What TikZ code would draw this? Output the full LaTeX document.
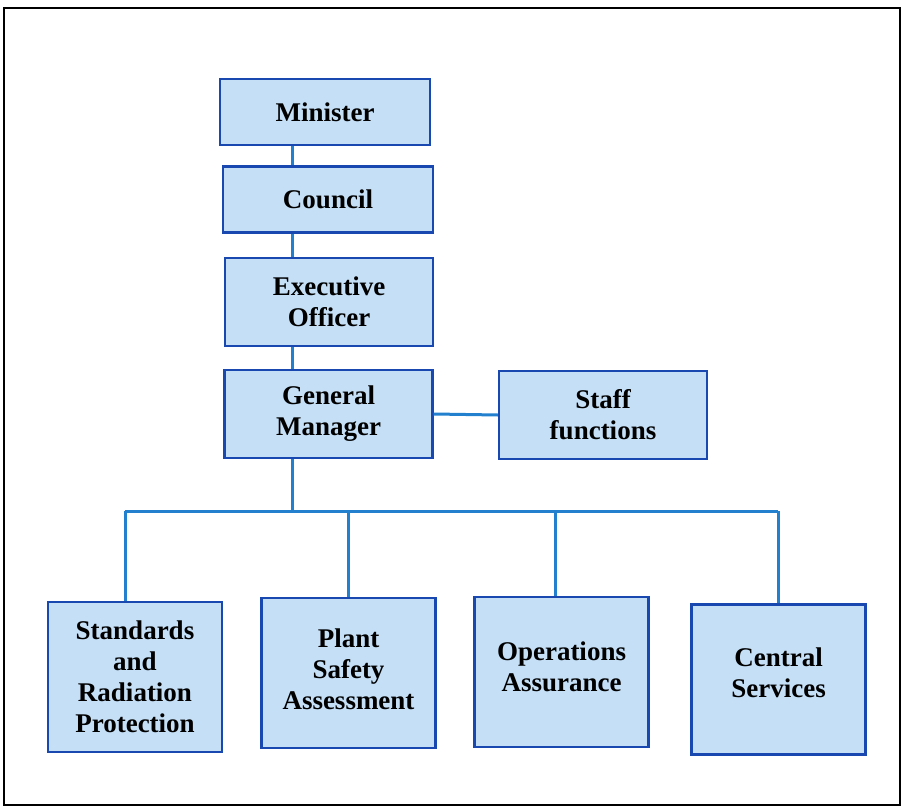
\documentclass[tikz,border=0pt]{standalone}
\usepackage{fontspec}
\setmainfont{Liberation Serif}
\usetikzlibrary{positioning}
\definecolor{orgFill}{RGB}{196,223,246}
\definecolor{orgEdge}{RGB}{24,72,176}
\definecolor{orgLink}{RGB}{34,128,206}

\begin{document}
\begin{tikzpicture}[
    x=0.5pt, y=-0.5pt,
    unit/.style={draw=orgEdge, line width=1.2pt, fill=orgFill, align=center,
      font=\fontsize{13.5}{15.5}\selectfont\bfseries, inner sep=2pt},
    top/.style={unit, minimum width=105pt, minimum height=33pt},
    mid/.style={unit, minimum width=104pt, minimum height=44pt},
    dept/.style={unit, minimum width=87pt, minimum height=75pt},
    link/.style={draw=orgLink, line width=1.5pt}
  ]
    \useasboundingbox (0,0) rectangle (903,807);
    \draw[line width=1pt] (4,8) rectangle (900,805);

    % chain of command
    \node[top] (min) at (325,112) {Minister};
    \node[top] (coun) at (328,199.5) {Council};
    \node[mid] (exec) at (329,302) {Executive\\Officer};
    \node[mid] (gm) at (328.5,414) {General\\Manager};
    \node[mid] (staff) at (603,415) {Staff\\functions};

    % divisions
    \node[dept] (std) at (135,677) {Standards\\and\\Radiation\\Protection};
    \node[dept] (plant) at (348.5,673) {Plant\\Safety\\Assessment\\[-12pt]};
    \node[dept] (ops) at (561.5,672) {Operations\\Assurance\\[-10.5pt]};
    \node[dept] (cen) at (778.5,679.5) {Central\\Services\\[-8.5pt]};

    \coordinate (trunk) at (292,0);
    \coordinate (d1) at (125,511);
    \coordinate (d2) at (348,511);
    \coordinate (d3) at (555,511);
    \coordinate (d4) at (778,511);

    \draw[link] (min.south -| trunk) -- (coun.north -| trunk);
    \draw[link] (coun.south -| trunk) -- (exec.north -| trunk);
    \draw[link] (exec.south -| trunk) -- (gm.north -| trunk);
    \draw[link] (gm.south -| trunk) -- (d1 -| trunk);
    \draw[link] (gm.east) -- (staff.west);
    \draw[link] (d1) -- (d4);
    \draw[link] (d1) -- (d1 |- std.north);
    \draw[link] (d2) -- (d2 |- plant.north);
    \draw[link] (d3) -- (d3 |- ops.north);
    \draw[link] (d4) -- (d4 |- cen.north);
  \end{tikzpicture}
\end{document}
